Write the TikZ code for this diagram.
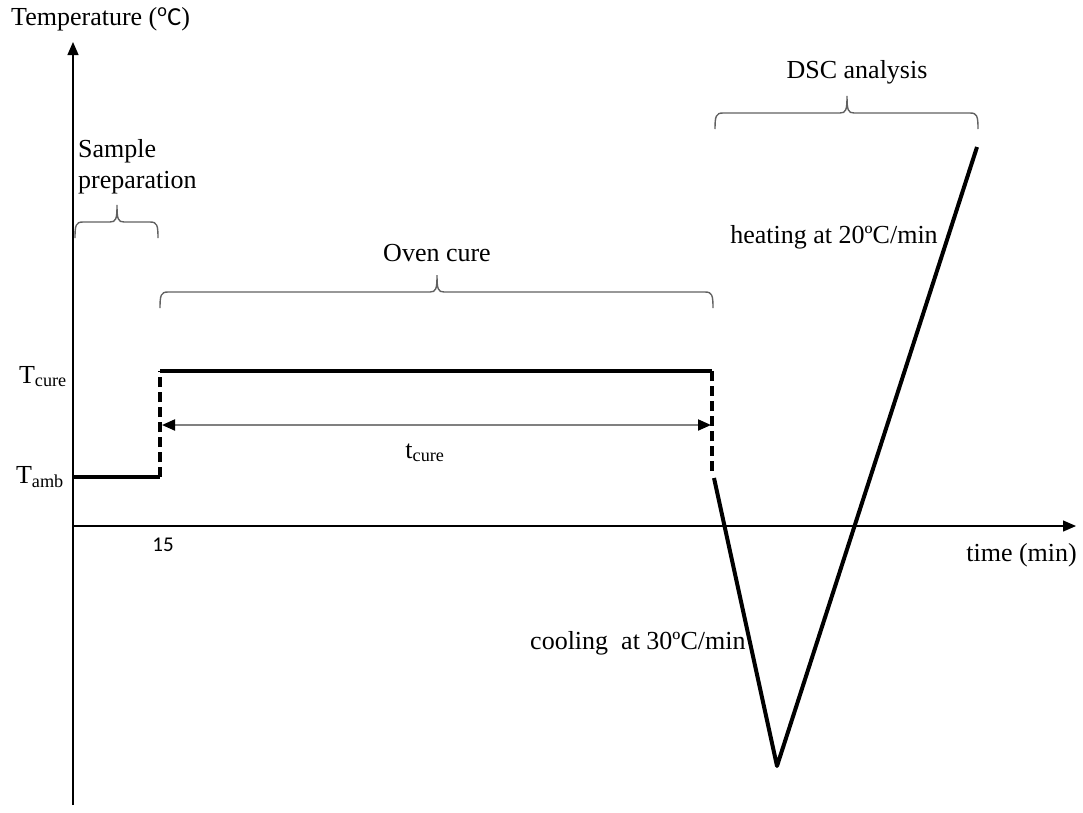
\documentclass[tikz,border=0pt]{standalone}
\usepackage{fontspec}
\setmainfont{Liberation Serif}
\newfontfamily\calib{Carlito}
\usetikzlibrary{arrows.meta}
% curly bracket: left x, right x, tip x, height of the bar
\newcommand{\drawcurly}[4]{%
  \draw[bracket] (#1,#4+16) .. controls (#1,#4+3) and (#1+1,#4) .. (#1+8,#4)
    -- (#3-7,#4) .. controls (#3-1,#4) and (#3,#4-3) .. (#3,#4-17)
    .. controls (#3,#4-3) and (#3+1,#4) .. (#3+7,#4)
    -- (#2-8,#4) .. controls (#2-1,#4) and (#2,#4+3) .. (#2,#4+16);}
\begin{document}
\begin{tikzpicture}[x=1pt,y=-1pt,
  every node/.style={font=\fontsize{26}{31}\selectfont, inner sep=0pt},
  axis/.style={line width=1.3pt, -{Triangle[length=13pt,width=11pt]}},
  profile/.style={line width=4pt},
  jump/.style={line width=4pt, dash pattern=on 10pt off 5pt},
  bracket/.style={line width=1.4pt, draw=black!62},
  span/.style={line width=2pt, draw=black!50,
    {Triangle[length=13pt,width=11pt,color=black]}-{Triangle[length=13pt,width=11pt,color=black]}},
]
\useasboundingbox (0,0) rectangle (1083,812);

% axes
\coordinate (ybot) at (73,805);
\coordinate (ytop) at (73,42);
\coordinate (O) at (73,526);
\coordinate (xend) at (1076,526);
\draw[axis] (ybot) -- (ytop);
\draw[axis] (O) -- (xend);

% temperature profile
\coordinate (a0) at (73,477);
\coordinate (a1) at (160,477);
\coordinate (c0) at (160,371);
\coordinate (c1) at (712,371);
\coordinate (d0) at (712,474);
\coordinate (e0) at (714,478);
\coordinate (m) at (777,766);
\coordinate (h) at (977,147);
\draw[profile] (a0) -- (a1);
\draw[jump] (a1) -- (c0);
\draw[profile] (c0) -- (c1);
\draw[jump] (c1) -- (d0);
\draw[profile, line join=round] (e0) -- (m) -- (h);

% cure time span
\coordinate (s0) at (162,425);
\coordinate (s1) at (711,425);
\draw[span] (s0) -- (s1);

% brackets
\drawcurly{75}{158}{117}{222}
\drawcurly{160}{713}{437}{292}
\drawcurly{715}{978}{847}{113}

% labels
\node[anchor=west] (ylab) at (11,19) {Temperature ({\calib\textsuperscript{o}C})};
\node[anchor=west, align=left] (prep) at (78,167) {Sample\\preparation};
\node (oven) at (437,253) {Oven cure};
\node (dsc) at (857,72) {DSC analysis};
\node (heat) at (834,237) {heating at 20ºC/min};
\node[anchor=west] (cool) at (530,643) {cooling\ \ at 30ºC/min};
\node[anchor=base east] (tcure) at (67,383) {T\textsubscript{cure}};
\node[anchor=base east] (tamb) at (64,483) {T\textsubscript{amb}};
\node[anchor=base] (tc) at (425,458) {t\textsubscript{cure}};
\node (n15) at (163,545) {\calib\fontsize{21}{24}\selectfont 15};
\node[anchor=east] (xlab) at (1077,555) {time (min)};
\end{tikzpicture}
\end{document}
